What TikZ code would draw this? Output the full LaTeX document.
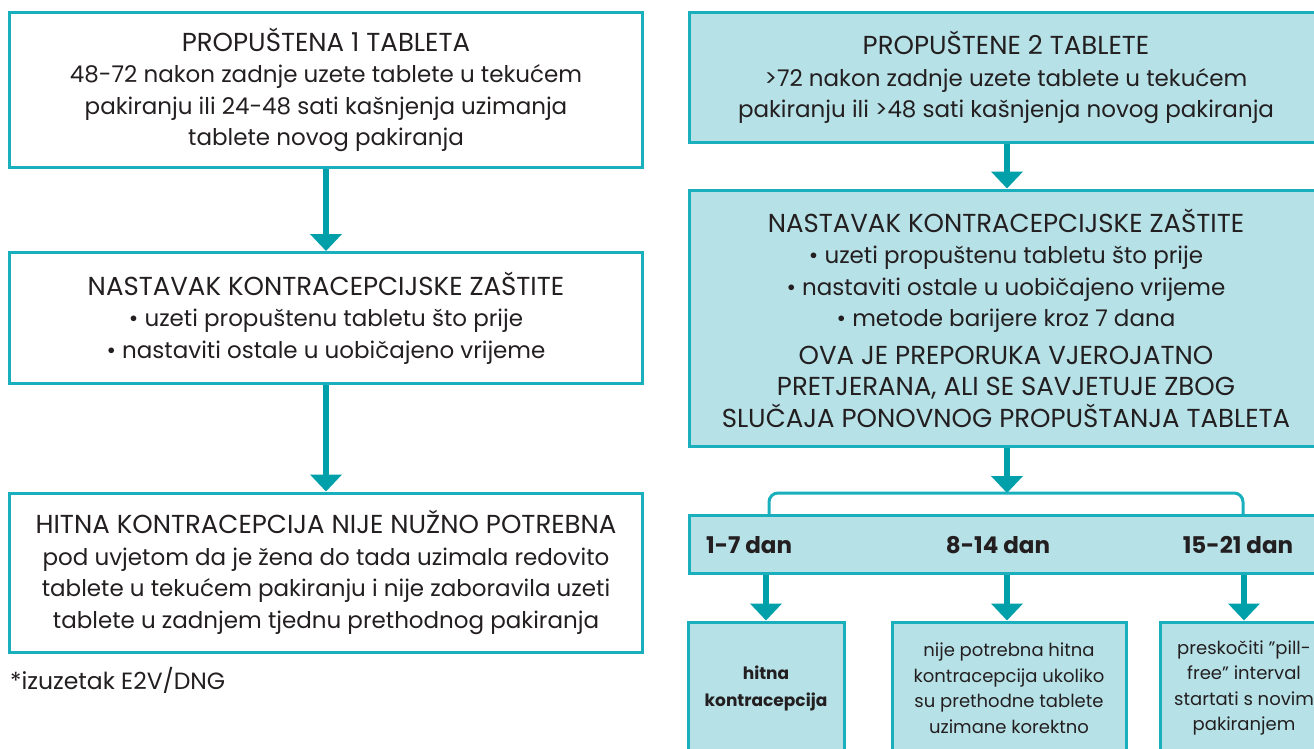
\documentclass[tikz,border=0pt]{standalone}
\usepackage{fontspec}
\setmainfont{Poppins}
\usetikzlibrary{arrows.meta}
\definecolor{tealline}{HTML}{1AAFBC}
\definecolor{tealarrow}{HTML}{00A0AB}
\definecolor{tealfill}{HTML}{B6E1E7}
\definecolor{inkgray}{HTML}{231F20}
\newcommand\boxtitle[1]{{\fontsize{26}{31.5}\selectfont #1}}

\begin{document}
\begin{tikzpicture}[x=1pt,y=-1pt,
            box/.style={draw=tealline,line width=3pt,inner sep=0pt,align=center,
              text=inkgray,font=\fontsize{23}{31.5}\selectfont},
            filled/.style={box,fill=tealfill},
            small/.style={filled,font=\fontsize{18}{25.5}\selectfont},
            daylbl/.style={text=inkgray,inner sep=0pt,font=\fontsize{23}{26}\selectfont\bfseries},
            arr/.style={draw=tealarrow,line width=6pt,-{Triangle[width=31pt,length=17pt]}},
            branch/.style={draw=tealline,line width=3pt,rounded corners=9pt}]
            \useasboundingbox (0,0) rectangle (1314,748);
            % left column
            \node (l1) at (326,90) [box,minimum width=633pt,minimum height=155pt]
              {\boxtitle{PROPUŠTENA 1 TABLETA}\\48-72 nakon zadnje uzete tablete u tekućem\\pakiranju ili 24-48 sati kašnjenja uzimanja\\tablete novog pakiranja};
            \node (l2) at (326,318) [box,minimum width=633pt,minimum height=131pt]
              {\boxtitle{NASTAVAK KONTRACEPCIJSKE ZAŠTITE}\\• uzeti propuštenu tabletu što prije\\• nastaviti ostale u uobičajeno vrijeme};
            \node (l3) at (326,572.5) [box,minimum width=633pt,minimum height=159pt]
              {\boxtitle{HITNA KONTRACEPCIJA NIJE NUŽNO POTREBNA}\\pod uvjetom da je žena do tada uzimala redovito\\tablete u tekućem pakiranju i nije zaboravila uzeti\\tablete u zadnjem tjednu prethodnog pakiranja};
            \node (note) at (10,680) [anchor=west,inner sep=0pt,text=inkgray,font=\fontsize{23.5}{26}\selectfont] {*izuzetak E2V/DNG};
            \draw[arr] (l1) -- (l2);
            \draw[arr] (l2) -- (l3);
            % right column
            \node (r1) at (1006,77.5) [filled,minimum width=633pt,minimum height=130pt]
              {\boxtitle{PROPUŠTENE 2 TABLETE}\\>72 nakon zadnje uzete tablete u tekućem\\pakiranju ili >48 sati kašnjenja novog pakiranja};
            \node (r2) at (1006,318) [filled,minimum width=633pt,minimum height=256pt]
              {\boxtitle{NASTAVAK KONTRACEPCIJSKE ZAŠTITE}\\• uzeti propuštenu tabletu što prije\\• nastaviti ostale u uobičajeno vrijeme\\• metode barijere kroz 7 dana\\[6pt]\boxtitle{OVA JE PREPORUKA VJEROJATNO}\\\boxtitle{PRETJERANA, ALI SE SAVJETUJE ZBOG}\\\boxtitle{SLUČAJA PONOVNOG PROPUŠTANJA TABLETA}};
            \node (bar) at (1006,544) [filled,minimum width=633pt,minimum height=58pt] {};
            \node (d1) at (706,545) [daylbl,anchor=west] {1-7 dan};
            \node (d2) at (998,545) [daylbl] {8-14 dan};
            \node (d3) at (1238,545) [daylbl] {15-21 dan};
            \node (s1) at (766,688) [small,minimum width=156pt,minimum height=132pt,font=\fontsize{17}{27}\selectfont] {\textbf{hitna}\\\textbf{kontracepcija}};
            \node (s2) at (1009,688) [small,minimum width=234pt,minimum height=132pt]
              {nije potrebna hitna\\kontracepcija ukoliko\\su prethodne tablete\\uzimane korektno};
            \node (s3) at (1244,688) [small,minimum width=168pt,minimum height=132pt]
              {preskočiti "pill-\\free" interval\\startati s novim\\pakiranjem};
            \coordinate (fork) at (1007,493);
            \coordinate (forkl) at (769,515);
            \coordinate (forkr) at (1243,515);
            \draw[arr] (r1.south -| fork) -- (r2.north -| fork);
            \draw[arr] (r2.south -| fork) -- (fork);
            \draw[branch] (forkl) |- (fork) -| (forkr);
            \draw[arr] (bar.south -| s1.north) -- (s1.north);
            \draw[arr] (bar.south -| fork) -- (s2.north -| fork);
            \draw[arr] (bar.south -| s3.north) -- (s3.north);
        \end{tikzpicture}
\end{document}
